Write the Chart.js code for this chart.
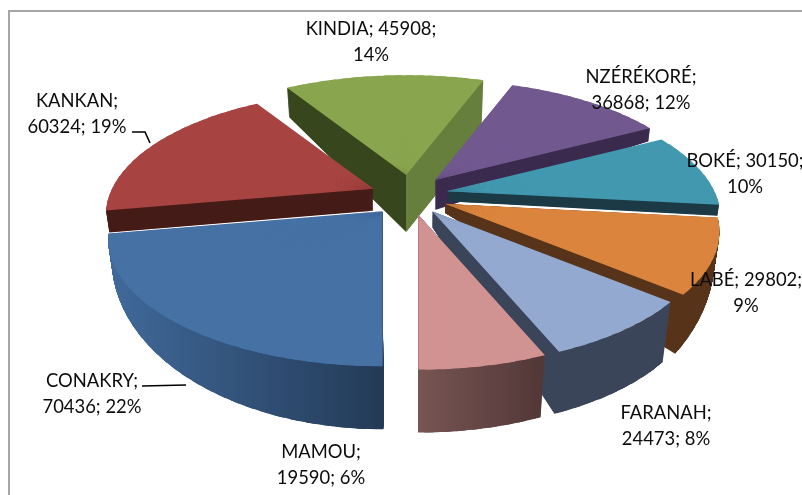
<!DOCTYPE html>
<html><head><meta charset="utf-8">
<script src="https://cdn.jsdelivr.net/npm/chart.js@4"></script>
<style>html,body{margin:0;padding:0;background:#fff}canvas{display:block}</style>
</head><body><canvas id="c" width="802" height="495"></canvas>
<script>
const categories = ['CONAKRY','KANKAN','KINDIA','NZÉRÉKORÉ','BOKÉ','LABÉ','FARANAH','MAMOU'];
const values = [70436,60324,45908,36868,30150,29802,24473,19590];
const percents = [22,19,14,12,10,9,8,6];
const topColors = ['#4571A5','#A74441','#89A54E','#71588F','#4198AF','#DB843D','#93A9CF','#D19392'];
// side wall colours: horizontal gradient [screen x, colour] stops
const sideColors = [
  [[110,'#40699A'],[379,'#243B58']],
  [[100,'#451B18'],[380,'#451B18']],
  [[405.5,'#38461D'],[406.5,'#667F3C']],
  [[430,'#3A2A4D'],[660,'#3A2A4D']],
  [[440,'#1B3A45'],[720,'#1B3A45']],
  [[440,'#57331A'],[720,'#57331A']],
  [[430,'#3B4559'],[670,'#3B4559']],
  [[419,'#775553'],[540,'#533838']]
];
// wall height at [apex, first rim end, last rim end]
const depths = [[40,63,22],[22,22,22],[57,29,58],[30,20,13],[10,10,11],[9,24,59],[16,60,62],[12,62,63]];
const sliceNudge = [[-3,1],[-2,2],[0,0],[0,0],[-1,0],[0,1],[0,0],[1,0]];
const sliceScale = [1,0.975,1,1,1,1,1,1];
const paintOrder = [2,3,4,5,6,7,1,0];
const labelBreaks = [1,1,2,1,2,2,1,1];
const labelCenters = [[92,387],[77,107],[371,35],[641,83],[745,167],[746,286],[666,419],[321,458]];
const leaderLines = [[[142,386],[186,385]],[[132,132],[145,132],[150,143]]];

// camera used to lay the tilted pie out on the page
const cam = {cx:410, cy:195, ex:38, ey:20, rx:268, ry:121.5, p:0.216, shrink:0.03};
function rimOffset(a){
  const u=Math.cos(a), v=Math.sin(a), s=1/(1-cam.p*v);
  return [cam.rx*u*s, cam.ry*v*s];
}
function affine(S0,S1,S2,D0,D1,D2){
  const ux=S1[0]-S0[0],uy=S1[1]-S0[1],vx=S2[0]-S0[0],vy=S2[1]-S0[1],det=ux*vy-uy*vx;
  const a1=D1[0]-D0[0],b1=D1[1]-D0[1],a2=D2[0]-D0[0],b2=D2[1]-D0[1];
  const a=(a1*vy-a2*uy)/det, c=(a2*ux-a1*vx)/det, b=(b1*vy-b2*uy)/det, d=(b2*ux-b1*vx)/det;
  return [a,b,c,d,D0[0]-a*S0[0]-c*S0[1],D0[1]-b*S0[0]-d*S0[1]];
}
function screenGradient(ctx,M,stops){
  const [a,,c,,e]=M, g=a*a+c*c;
  const x0=stops[0][0], x1=stops[stops.length-1][0];
  const t0=(x0-e)/g, t1=(x1-e)/g;
  const gr=ctx.createLinearGradient(t0*a,t0*c,t1*a,t1*c);
  stops.forEach(s=>gr.addColorStop((s[0]-x0)/(x1-x0),s[1]));
  return gr;
}
const pie3d = {
  id:'pie3d',
  beforeDatasetsDraw(chart){
    const ctx=chart.ctx, arcs=chart.getDatasetMeta(0).data;
    paintOrder.forEach(i=>{
      const arc=arcs[i], a1=arc.startAngle, a2=arc.endAngle, base=arc.options;
      const mid=(a1+a2)/2, R=arc.outerRadius, S0=[arc.x,arc.y];
      const ax=cam.cx+cam.ex*Math.cos(mid)+sliceNudge[i][0], ay=cam.cy+cam.ey*Math.sin(mid)+sliceNudge[i][1];
      const step=3*Math.PI/180, n=Math.ceil((a2-a1)/step), inc=(a2-a1)/n;
      const [dA,dS,dE]=depths[i];
      const v1=Math.sin(a1), v2=Math.sin(a2);
      const depthAt=a=>{const t=Math.min(1,Math.max(0,(Math.sin(a)-v1)/(v2-v1)));return dS+(dE-dS)*t;};
      const pt=(a,k)=>{ // rim point, k = 0 top face .. 1 bottom face
        const o=rimOffset(a), d=depthAt(a);
        const x=ax+o[0]*sliceScale[i], y=ay+o[1]*sliceScale[i];
        return [x-(x-cam.cx)*cam.shrink*k*d/60, y+d*k];
      };
      const wedge=(j,k,fill)=>{
        // each piece runs on under the next one so no seam shows between them
        const s=a1+inc*j, e=Math.min(a2,a1+inc*(j+1.6));
        const M=affine(S0,[S0[0]+R*Math.cos(s),S0[1]+R*Math.sin(s)],[S0[0]+R*Math.cos(e),S0[1]+R*Math.sin(e)],
                       [ax,ay+dA*k],pt(s,k),pt(e,k));
        ctx.save();
        ctx.setTransform(M[0],M[1],M[2],M[3],M[4],M[5]);
        arc.startAngle=s; arc.endAngle=e; arc.circumference=e-s;
        const col=fill==='side'?screenGradient(ctx,M,sideColors[i]):fill;
        arc.options=Object.assign({},base,{backgroundColor:col,borderColor:col,borderWidth:0,offset:0});
        arc.draw(ctx);
        ctx.restore();
      };
      const maxD=Math.max(dA,dS,dE);
      for(let l=maxD;l>=1;l-=0.5){
        for(let j=0;j<n;j++) wedge(j,l/maxD,'side');
      }
      for(let j=0;j<n;j++) wedge(j,0,topColors[i]);
      arc.startAngle=a1; arc.endAngle=a2; arc.circumference=a2-a1; arc.options=base;
    });
    return false;
  },
  afterDraw(chart){
    const ctx=chart.ctx;
    ctx.save();
    ctx.strokeStyle='#A6A6A6'; ctx.lineWidth=2;
    ctx.beginPath(); ctx.moveTo(9,496); ctx.lineTo(9,11); ctx.lineTo(803,11); ctx.stroke();
    ctx.strokeStyle='#000'; ctx.lineWidth=1.6;
    leaderLines.forEach(L=>{ctx.beginPath();L.forEach((p,i)=>i?ctx.lineTo(p[0],p[1]):ctx.moveTo(p[0],p[1]));ctx.stroke();});
    ctx.fillStyle='#0c0c0c'; ctx.textAlign='center'; ctx.textBaseline='alphabetic';
    ctx.font='18.4px Lato';
    categories.forEach((c,i)=>{
      const parts=[c,String(values[i]),percents[i]+'%'];
      const brk=labelBreaks[i];
      const l1=parts.slice(0,brk).join('; ')+';';
      const l2=parts.slice(brk).join('; ');
      ctx.fillText(l1,labelCenters[i][0],labelCenters[i][1]);
      ctx.fillText(l2,labelCenters[i][0],labelCenters[i][1]+26);
    });
    ctx.restore();
  }
};
new Chart(document.getElementById('c'),{
  type:'pie',
  data:{labels:categories,datasets:[{data:values,backgroundColor:topColors,borderWidth:0}]},
  options:{responsive:false,animation:false,rotation:180,
    layout:{padding:0},
    plugins:{legend:{display:false},tooltip:{enabled:false}}},
  plugins:[pie3d]
});
</script></body></html>
